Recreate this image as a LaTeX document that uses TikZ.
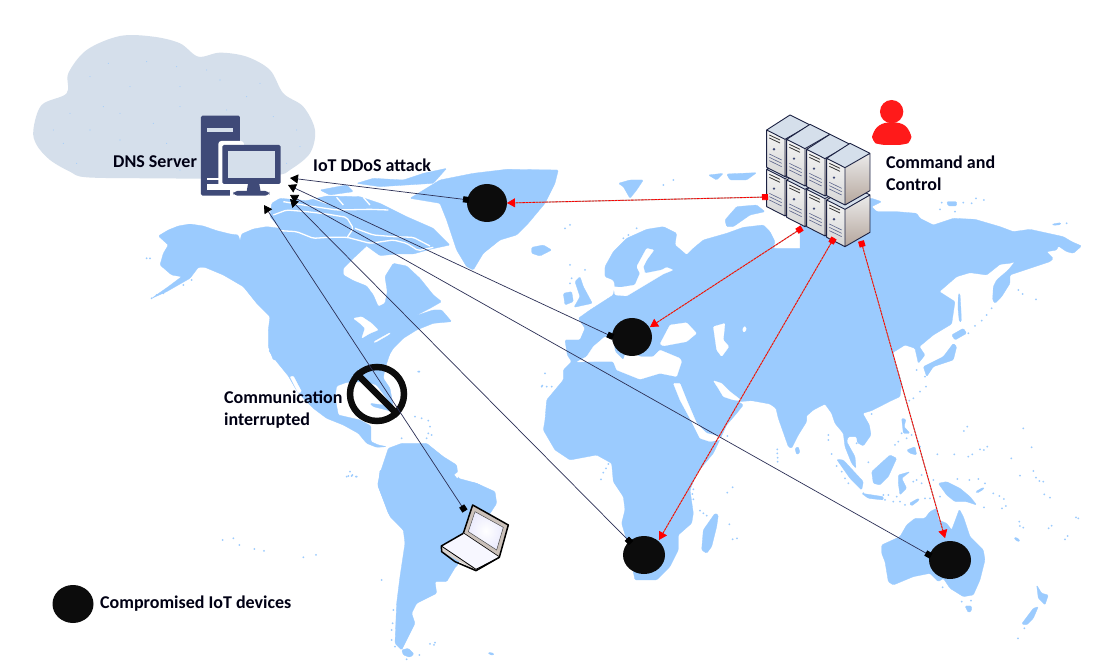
\documentclass[tikz,border=0pt]{standalone}
\usepackage{fontspec}
\setmainfont{Carlito}
\usetikzlibrary{arrows.meta,shapes.geometric}
\definecolor{mapblue}{HTML}{9BCBFE}
\definecolor{cloudc}{HTML}{D5DFEB}
\definecolor{icon}{HTML}{3F4A78}
\definecolor{blob}{HTML}{0C0C0C}
\definecolor{navy}{HTML}{2B2F55}
\definecolor{greyl}{HTML}{A99C94}
\definecolor{srvdark}{HTML}{1B2142}
\definecolor{srvright}{HTML}{B5A69C}
\definecolor{userred}{HTML}{FF1A1A}
\tikzset{
 land/.style={fill=mapblue,draw=mapblue,line width=.3pt,rounded corners=1.2pt},
 sea/.style={fill=white,draw=white,line width=.2pt,rounded corners=1pt},
 channel/.style={draw=white,line width=1.3pt,rounded corners=2pt},
 blackdot/.style={ellipse,fill=blob,draw=none,inner sep=0pt,minimum width=#1,minimum height=38pt},
 attack/.style={draw=navy,line width=.7pt,{Square[length=6pt,width=6pt,black]}-{Triangle[length=8pt,width=9pt,black]}},
 ctrl/.style={draw=red,line width=.8pt,dash pattern=on 2.5pt off .8pt,
   preaction={draw=greyl,line width=1pt,solid,-},
   {Square[length=6pt,width=6pt,red]}-{Triangle[length=8pt,width=9pt,red]}},
 lab/.style={anchor=west,inner sep=0pt,align=left,text=black!92!blue,font=\fontsize{18}{22}\selectfont\bfseries}
}
\newcommand\mapdots[1]{\foreach \px/\py in {#1}{\fill[mapblue] (\px,\py) circle[radius=3];}}
\newcommand\srvunit[2]{%
 \begin{scope}[shift={(#1,#2)}]
  \shade[top color=black!8,bottom color=srvright] (55,28)--(130,-15)--(130,97)--(55,140)--cycle;
  \shade[top color=black!4,bottom color=black!16] (0,0)--(55,28)--(55,140)--(0,112)--cycle;
  \fill[cloudc] (0,0)--(70,-45)--(130,-15)--(55,28)--cycle;
  \draw[srvdark,line width=.9pt,line join=round] (0,0)--(70,-45)--(130,-15)--(130,97)--(55,140)--(0,112)--cycle (0,0)--(55,28)--(130,-15) (55,28)--(55,140);
  \draw[black!80,line width=.8pt] (8,15)--(40,30) (8,24)--(40,39);
  \fill[icon] (22,58) circle[radius=4];
  \draw[icon!85,line width=.6pt] (8,72)--(45,90) (8,82)--(45,100) (8,92)--(45,110);
 \end{scope}}
\begin{document}
\begin{tikzpicture}[x=1pt,y=-1pt]
\useasboundingbox (0,0) rectangle (1098,668);
\fill[white] (0,0) rectangle (1098,668);
%% ---- North America, Greenland (zoom frame 140,160)
\begin{scope}[shift={(140,160)},scale=.3333]
 \fill[land] (55,228)--(85,210)--(115,198)--(150,192)--(190,198)--(230,212)--(270,222)--(295,225)--(300,243)--(305,222)--(340,207)--(380,200)--(420,205)--(470,225)--(520,250)--(570,240)--(610,235)--(660,235)--(680,258)--(640,295)--(610,325)--(610,345)--(640,362)--(680,378)--(700,405)--(715,440)--(735,430)--(742,395)--(735,350)--(760,310)--(800,318)--(840,355)--(880,405)--(905,425)--(870,445)--(825,468)--(880,450)--(905,450)--(935,485)--(880,490)--(830,510)--(790,535)--(760,565)--(745,590)--(720,600)--(400,600)--(385,560)--(385,510)--(390,470)--(350,430)--(310,380)--(250,345)--(195,322)--(175,322)--(150,355)--(80,395)--(35,415)--(85,380)--(125,350)--(95,345)--(60,315)--(70,280)--(85,255)--cycle;
 \fill[sea] (640,475)--(665,470)--(695,490)--(715,510)--(690,520)--(665,535)--(675,505)--(660,490)--cycle;
 \fill[sea] (702,545)--(750,518)--(750,522)--(705,548)--cycle;
 % Arctic islands
 \fill[land] (395,130)--(420,115)--(500,122)--(560,108)--(660,110)--(720,130)--(800,170)--(880,205)--(930,255)--(870,268)--(820,282)--(770,282)--(720,287)--(680,258)--(620,240)--(520,250)--(470,225)--(420,205)--(390,170)--cycle;
 \draw[channel] (400,165)--(440,150)--(500,155)--(560,162)--(620,172)--(640,205)--(622,232);
 \draw[channel] (420,212)--(470,215)--(520,235)--(565,232)--(622,232)--(690,250)--(760,240)--(800,250)--(835,272)--(880,262);
 \draw[channel] (430,125)--(490,135)--(590,150)--(690,148)--(745,150);
 \draw[channel] (645,205)--(700,225)--(760,230)--(820,232)--(870,258);
 \draw[channel] (520,115)--(560,130);
 \draw[channel] (590,112)--(610,135);
 \draw[channel] (670,112)--(690,135);
 \fill[land] (540,90)--(620,75)--(640,95)--(570,105)--cycle;
 \fill[land] (650,70)--(700,55)--(790,60)--(850,40)--(920,25)--(880,70)--(800,75)--(720,80)--cycle;
 \fill[land] (810,115)--(900,60)--(1000,40)--(1100,28)--(1255,30)--(1245,70)--(1215,130)--(1165,190)--(1130,225)--(1080,240)--(1030,280)--(1000,330)--(980,320)--(950,270)--(920,180)--(900,130)--cycle;
 \mapdots{20/295,30/295,35/415,50/405,70/400,90/385,130/375,155/360,835/635}
\end{scope}
%% ---- Central & South America (zoom frame 210,350)
\begin{scope}[shift={(210,350)},scale=.3333]
 \fill[land] (175,0)--(200,35)--(235,78)--(262,125)--(310,175)--(350,205)--(400,225)--(445,250)--(470,280)--(500,292)--(530,290)--(505,285)--(483,275)--(483,228)--(450,210)--(385,195)--(375,140)--(380,108)--(410,97)--(470,95)--(500,105)--(530,145)--(550,170)--(540,115)--(520,85)--(525,55)--(540,10)--(540,0)--cycle;
 \fill[sea] (240,80)--(250,78)--(275,125)--(265,130)--cycle;
 \fill[land] (480,160)--(520,165)--(560,190)--(530,180)--(490,170)--cycle;
 \fill[land] (535,295)--(575,280)--(650,280)--(700,320)--(740,345)--(745,385)--(800,400)--(855,430)--(845,470)--(800,520)--(740,650)--(590,690)--(585,545)--(540,500)--(525,460)--(503,405)--(510,370)--cycle;
 \fill[sea] (722,385)--(745,365)--(752,372)--(735,392)--cycle;
 \mapdots{420/365,410/380,425/378,438/380,38/570,70/565,88/585,133/597,162/603,280/622,318/615,628/65,615/200,635/205,655/212,660/230,655/250,665/255,650/265,575/265}
\end{scope}
\begin{scope}[shift={(340,470)},scale=.3333]
 \fill[land] (120,0)--(115,50)--(145,130)--(190,180)--(195,220)--(180,320)--(170,400)--(165,520)--(185,540)--(205,500)--(225,460)--(215,430)--(230,400)--(290,370)--(285,335)--(320,335)--(350,285)--(470,100)--(465,65)--(410,40)--(355,30)--(330,0)--cycle;
 \fill[land] (185,540)--(205,535)--(222,552)--(210,562)--(190,555)--cycle;
 \fill[land] (445,547)--(462,550)--(460,556)--(447,553)--cycle;
 \mapdots{25/18,37/15,50/20,125/330,160/420,158/460,155/480,155/510,165/530,270/522,285/518,282/525,238/555,200/568}
\end{scope}
%% ---- Europe, Africa, W Asia (zoom frame 530,170)
\begin{scope}[shift={(530,170)},scale=.3333]
 \fill[land] (225,320)--(225,290)--(250,245)--(290,205)--(350,178)--(400,170)--(440,190)--(435,225)--(470,255)--(490,235)--(520,210)--(590,190)--(640,172)--(700,165)--(720,185)--(735,215)--(730,235)--(830,235)--(830,755)--(805,795)--(785,835)--(775,830)--(745,745)--(738,715)--(720,702)--(665,692)--(625,695)--(640,705)--(620,730)--(590,765)--(570,808)--(550,850)--(500,910)--(480,960)--(490,1030)--(485,1060)--(445,1095)--(445,1140)--(420,1190)--(380,1230)--(315,1230)--(290,1110)--(275,1060)--(285,1020)--(280,980)--(250,935)--(245,880)--(200,855)--(120,870)--(75,840)--(40,780)--(45,750)--(50,690)--(100,630)--(100,600)--(125,575)--(112,555)--(105,510)--(150,510)--(165,475)--(145,445)--(180,420)--(250,375)--(255,345)--(250,330)--cycle;
 \fill[land] (585,150)--(620,110)--(680,105)--(705,125)--(660,135)--(610,170)--(590,170)--cycle;
 % inland seas
 \fill[sea] (255,375)--(250,350)--(272,352)--(315,345)--(330,310)--(320,290)--(350,235)--(372,240)--(350,270)--(340,290)--(345,310)--(395,300)--(410,292)--(430,300)--(400,312)--(345,345)--(290,378)--cycle;
 \fill[sea] (140,576)--(170,560)--(190,530)--(225,500)--(250,510)--(255,545)--(280,570)--(290,540)--(330,560)--(370,560)--(390,540)--(450,565)--(455,575)--(440,620)--(390,610)--(330,628)--(260,600)--(250,575)--(190,575)--cycle;
 \fill[sea] (390,522)--(420,465)--(470,458)--(500,490)--(470,515)--(400,528)--cycle;
 \fill[sea] (550,470)--(585,460)--(580,510)--(597,530)--(575,560)--(560,540)--cycle;
 \fill[sea] (637,478)--(645,468)--(650,478)--(642,488)--cycle;
 \fill[sea] (550,632)--(575,640)--(600,665)--(635,692)--(610,690)--(580,680)--(565,655)--cycle;
 \fill[sea] (430,640)--(450,640)--(470,690)--(500,760)--(530,790)--(565,798)--(580,808)--(540,815)--(510,805)--(485,755)--(450,690)--cycle;
 \fill[sea] (730,230)--(750,200)--(735,150)--(750,150)--(765,210)--(790,215)--(760,228)--cycle;
 % islands
 \fill[land] (5,232)--(40,225)--(65,240)--(30,258)--(5,250)--cycle;
 \fill[land] (100,370)--(125,365)--(130,395)--(105,405)--cycle;
 \fill[land] (135,335)--(150,320)--(160,350)--(187,400)--(132,412)--(150,380)--cycle;
 \fill[land] (265,40)--(300,30)--(340,30)--(320,60)--(300,85)--(280,50)--cycle;
 \fill[land] (535,15)--(580,10)--(560,30)--cycle;
 \fill[land] (590,12)--(680,8)--(650,30)--(600,30)--cycle;
 \mapdots{120/285,165/300,125/325,120/340,295/195,280/205,320/175,120/165,105/175,430/30,400/45,45/610,35/650,65/650,37/647,50/650}
\end{scope}
\begin{scope}[shift={(530,380)},scale=.3333]
 \fill[land] (555,400)--(565,405)--(560,440)--(545,500)--(530,520)--(515,510)--(520,450)--cycle;
 \fill[land] (795,205)--(805,200)--(810,218)--(800,224)--cycle;
 \mapdots{235/252,228/265,220/278,213/298,490/328,487/342,490/358,510/392,520/400,530/407,592/168,742/208,742/220,743/233,743/245,608/322,592/338,598/433,608/478,621/475}
\end{scope}
%% ---- Asia, Oceania (zoom frame 800,170)
\begin{scope}[shift={(800,170)},scale=.3333]
 \fill[land] (0,755)--(40,720)--(75,702)--(95,730)--(105,760)--(130,790)--(135,830)--(155,880)--(168,895)--(165,860)--(140,815)--(145,800)--(170,800)--(172,818)--(190,828)--(213,795)--(208,765)--(188,730)--(215,722)--(272,693)--(300,680)--(305,640)--(290,590)--(278,548)--(315,525)--(345,535)--(355,580)--(375,555)--(358,530)--(400,495)--(455,462)--(465,395)--(418,365)--(470,320)--(510,308)--(560,315)--(600,283)--(630,280)--(645,275)--(625,300)--(590,330)--(580,350)--(578,390)--(585,400)--(605,380)--(630,340)--(630,315)--(690,295)--(750,275)--(760,265)--(740,245)--(770,240)--(775,228)--(800,245)--(820,250)--(845,228)--(815,215)--(790,200)--(690,178)--(640,185)--(600,170)--(525,148)--(460,145)--(400,165)--(360,145)--(350,130)--(290,125)--(230,125)--(215,110)--(245,95)--(215,85)--(0,85)--cycle;
 \fill[land] (475,372)--(480,372)--(483,420)--(484,455)--(478,455)--(474,415)--cycle;
 \fill[land] (370,590)--(430,560)--(460,520)--(470,530)--(460,570)--(400,590)--(380,620)--cycle;
 \fill[land] (455,495)--(490,475)--(500,490)--(465,510)--cycle;
 \fill[land] (440,95)--(470,95)--(470,108)--(445,108)--cycle;
 \fill[land] (758,162)--(782,158)--(782,164)--(760,166)--cycle;
 \mapdots{425/98,420/118,515/100,528/85,552/90,800/160,655/360,668/372,708/388,575/415,560/435,545/452,525/468,505/490,350/600,378/650,360/665,340/685,328/692,375/620,465/125,490/98}
\end{scope}
\begin{scope}[shift={(800,400)},scale=.3333]
 \fill[land] (215,215)--(270,165)--(290,175)--(265,230)--(240,255)--(220,250)--cycle;
 \fill[land] (110,178)--(130,180)--(190,245)--(185,270)--(150,235)--cycle;
 \fill[land] (185,280)--(250,290)--(250,300)--(205,295)--cycle;
 \fill[land] (295,225)--(330,215)--(305,235)--(320,265)--(300,285)--(295,250)--cycle;
 \fill[land] (415,250)--(440,245)--(480,265)--(510,290)--(530,315)--(500,305)--(465,305)--(440,285)--cycle;
 \fill[land] (305,55)--(318,58)--(312,80)--(330,100)--(310,100)--cycle;
 \fill[land] (320,150)--(345,140)--(350,165)--(330,160)--cycle;
 \fill[land] (328,310)--(355,295)--(358,300)--(335,318)--cycle;
 \fill[land] (527,275)--(550,262)--(552,267)--(532,279)--cycle;
 \fill[land] (245,435)--(300,410)--(320,375)--(345,355)--(375,355)--(390,335)--(410,325)--(415,360)--(440,370)--(455,390)--(470,350)--(478,328)--(490,350)--(510,410)--(550,450)--(555,480)--(540,540)--(520,585)--(490,590)--(450,565)--(430,535)--(415,545)--(390,520)--(340,530)--(280,555)--(265,545)--(255,485)--(245,460)--cycle;
 \fill[land] (495,618)--(515,618)--(515,632)--(505,638)--cycle;
 \fill[land] (665,672)--(700,625)--(715,620)--(700,655)--(680,675)--cycle;
 \fill[land] (710,555)--(725,580)--(745,585)--(735,615)--(715,595)--cycle;
 \fill[land] (642,412)--(655,415)--(660,425)--(648,422)--cycle;
 \mapdots{85/105,85/120,95/162,110/198,125/215,135/235,145/250,205/187,215/42,170/130,285/135,295/125,305/100,320/115,335/105,355/125,360/140,412/163,463/163,505/170,517/163,540/148,552/150,562/140,492/93,502/80,670/85,695/142,634/175,700/213,660/227,708/233,718/243,730/245,733/283,750/293,472/237,508/240,535/237,555/250,580/280,598/288,612/297,618/318,606/325,552/322,658/365,660/378,670/383,755/377,746/385,803/408,795/418,828/352,835/355,673/685,654/715,485/605,513/602,428/562,250/285,265/285,255/300,280/305,300/305,315/315,375/295,390/295,420/290,340/245,350/240,365/225,365/250,400/240,290/290,190/280}
\end{scope}
%% ---- Cloud
\begin{scope}[shift={(20,30)},scale=.3333]
 \fill[cloudc] plot[smooth cycle,tension=.55] coordinates {(40,300)(65,225)(140,190)(145,130)(200,60)(300,18)(400,20)(480,40)(535,80)(600,68)(680,80)(750,120)(790,190)(850,230)(885,300)(870,370)(810,420)(770,435)(600,445)(400,445)(200,442)(150,425)(90,390)(50,345)};
 \foreach \px/\py in {100/300,150/250,210/140,265/100,380/95,470/110,330/170,210/300,250/230,300/330,400/280,480/230,130/340,170/400,340/390,440/340,480/420,600/150,680/200,720/160,760/260,830/300,840/350,800/400,560/120,480/170,620/240,300/250}{\fill[mapblue] (\px,\py) circle[radius=1.6];}
 % computer icon
 \fill[icon,rounded corners=1.5pt] (543,257) rectangle (660,497);
 \fill[cloudc] (560,294) rectangle (640,305);
 \fill[white] (560,445) rectangle (600,451);
 \fill[white] (560,462) rectangle (640,480);
 \fill[white,rounded corners=3pt] (595,333) rectangle (672,472);
 \fill[white] (630,462) rectangle (792,500);
 \fill[icon,rounded corners=1.5pt] (607,345) rectangle (782,462);
 \fill[cloudc] (623,362) rectangle (765,445);
 \fill[icon] (684,462)--(718,462)--(722,485)--(680,485)--cycle;
 \fill[icon,rounded corners=4pt] (640,483) rectangle (748,497);
\end{scope}
%% ---- Red user
\begin{scope}[shift={(740,90)},scale=.3333]
 \fill[userred] (455,65) circle[radius=35];
 \fill[userred,rounded corners=6pt] (395,155)--(398,125)--(425,98)--(488,98)--(512,125)--(516,155)--(490,165)--(420,165)--cycle;
\end{scope}
%% ---- Laptop
\begin{scope}[shift={(340,470)},scale=.3333]
 \fill[srvright!70!white] (398,105)--(505,165)--(478,262)--(370,190)--cycle;
 \shade[inner color=white,outer color=black!10!blue!8!white] (405,125)--(490,172)--(470,240)--(385,185)--cycle;
 \draw[black!70,line width=.5pt] (405,125)--(490,172)--(470,240)--(385,185)--cycle;
 \draw[black,line width=1.5pt,line join=round] (398,105)--(505,165)--(478,262)--(370,190)--cycle;
 \fill[black!4!blue!3!white] (370,190)--(478,262)--(408,298)--(304,228)--cycle;
 \fill[srvright!50!white] (304,228)--(408,298)--(408,302)--(305,245)--cycle;
 \draw[black,line width=1.5pt,line join=round] (370,190)--(304,228)--(305,245)--(345,275)--(408,302)--(478,262);
 \draw[black,line width=.8pt] (304,228)--(408,298)--(478,262);
\end{scope}
%% ---- Servers
\begin{scope}[shift={(740,90)},scale=.3333]
 \srvunit{80}{238}\srvunit{80}{120}
 \srvunit{140}{270}\srvunit{140}{148}
 \srvunit{200}{298}\srvunit{200}{178}
 \srvunit{260}{330}\srvunit{260}{205}
\end{scope}
%% ---- Black markers
\node[blackdot=40pt] (mgreen) at (487,203) {};
\node[blackdot=40pt] (meur) at (632,337) {};
\node[blackdot=42pt] (mafr) at (644,555) {};
\node[blackdot=42pt] (maus) at (950,560) {};
\node[blackdot=41pt] (mleg) at (73,604) {};
%% ---- Prohibition sign
\node[circle,draw=blob,line width=6.5pt,minimum size=54pt,inner sep=0pt] (nosign) at (377,394) {};
\draw[blob,line width=6.5pt] (nosign.135) -- (nosign.315);
%% ---- Connector ends
\coordinate (t1) at (290,178); \coordinate (s1) at (469,200);
\coordinate (t2) at (288,185); \coordinate (s2) at (613,337);
\coordinate (t3) at (290,195); \coordinate (s3) at (931,556);
\coordinate (t4) at (290,199); \coordinate (s4) at (631,543);
\coordinate (t5) at (264,205); \coordinate (s5) at (465,511);
\coordinate (c1) at (768,197); \coordinate (h1) at (507,203);
\coordinate (c2) at (802,228); \coordinate (h2) at (650,327);
\coordinate (c3) at (834,238); \coordinate (h3) at (659,540);
\coordinate (c4) at (861,241); \coordinate (h4) at (945,538);
\draw[attack] (s1) -- (t1);
\draw[attack] (s2) -- (t2);
\draw[attack] (s3) -- (t3);
\draw[attack] (s4) -- (t4);
\draw[attack] (s5) -- (t5);
\draw[ctrl] (c1) -- (h1);
\draw[ctrl] (c2) -- (h2);
\draw[ctrl] (c3) -- (h3);
\draw[ctrl] (c4) -- (h4);
%% ---- Labels
\node[lab] (ldns) at (113,162) {DNS Server};
\node[lab] (lddos) at (313,165) {IoT DDoS attack};
\node[lab] (lcc) at (886,173) {Command and\\Control};
\node[lab] (lcom) at (224,410) {Communication\\interrupted};
\node[lab] (lleg) at (100,604) {Compromised IoT devices};
\end{tikzpicture}
\end{document}
